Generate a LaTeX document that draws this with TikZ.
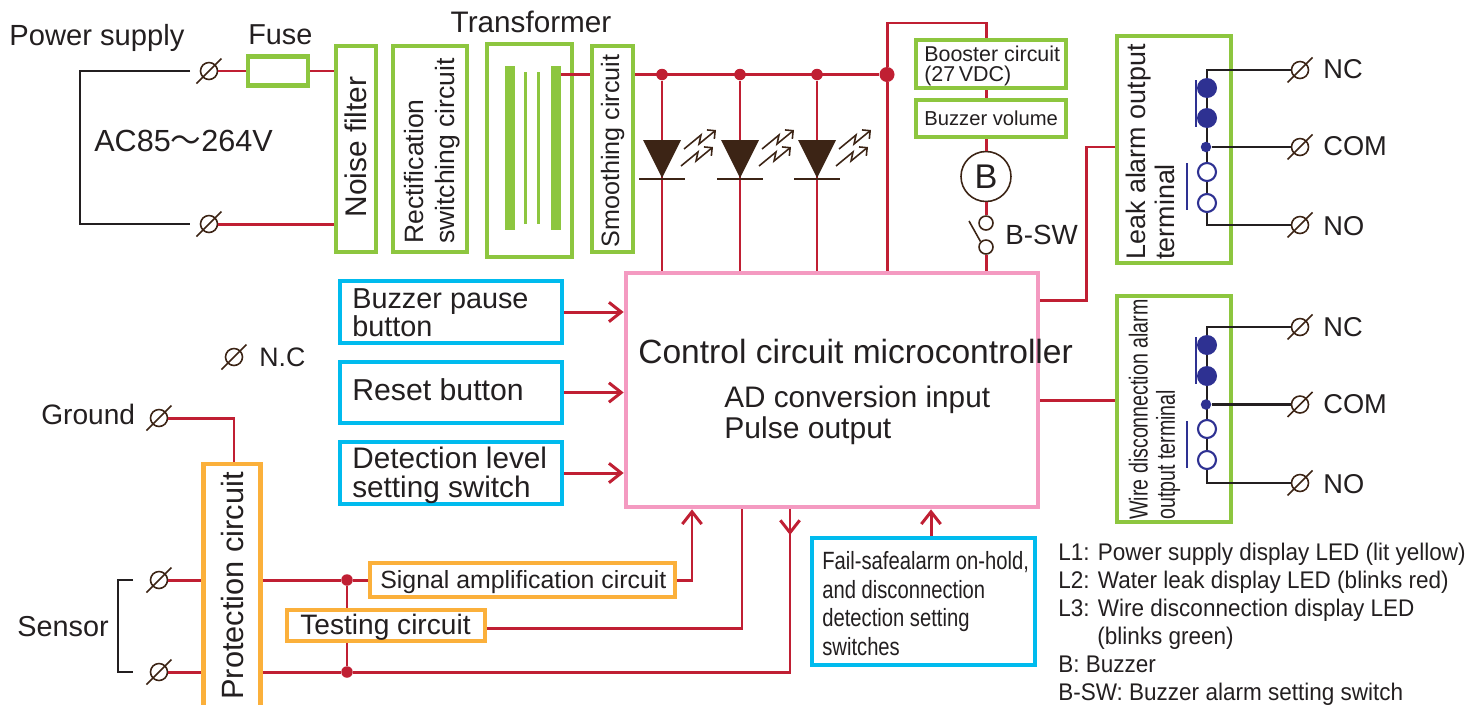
\documentclass[tikz,border=0pt]{standalone}
\usepackage{fontspec}
\setmainfont{Liberation Sans}
\newfontfamily\cjk{Noto Sans CJK JP}
\usepackage{tikz}
\usetikzlibrary{arrows.meta}
\definecolor{wirered}{HTML}{C01F33}
\definecolor{boxgreen}{HTML}{8DC63F}
\definecolor{boxblue}{HTML}{00BBEE}
\definecolor{boxorange}{HTML}{FBB03B}
\definecolor{boxpink}{HTML}{F49AC1}
\definecolor{relayblue}{HTML}{2E3192}
\definecolor{ledbrown}{HTML}{3C2415}
\definecolor{inkblack}{HTML}{231F20}
\newcommand\fsz[2]{\fontsize{#1}{#2}\selectfont}
\newcommand\sx[2]{\scalebox{#1}[1]{#2}}
\newcommand\term[3]{\node[termc] (#1) at (#2,#3) {};
  \draw[termslash] ([shift={(-12.5,12.5)}]#1.center)--([shift={(12.5,-12.5)}]#1.center);}
\tikzset{
  lbl/.style={inner sep=0pt,text=inkblack,font=\fsz{16.4pt}{19pt}},
  greenbox/.style={draw=boxgreen,line width=2.7pt,fill=white,inner sep=0pt},
  bluebox/.style={draw=boxblue,line width=2.7pt,fill=white,inner sep=0pt},
  orangebox/.style={draw=boxorange,line width=2.7pt,fill=white,inner sep=0pt},
  pinkbox/.style={draw=boxpink,line width=2.7pt,fill=white,inner sep=0pt},
  wire/.style={draw=wirered,line width=1.7pt},
  wirearrow/.style={wire,-{Straight Barb[length=7pt,width=11pt]}},
  blackwire/.style={draw=inkblack,line width=1.3pt},
  bracket/.style={draw=inkblack,line width=.9pt},
  termc/.style={circle,draw=ledbrown,line width=.9pt,minimum size=.34cm,inner sep=0pt},
  termslash/.style={draw=ledbrown,line width=.9pt},
  joint/.style={circle,fill=wirered,minimum size=.23cm,inner sep=0pt},
  bigjoint/.style={circle,fill=wirered,minimum size=.3cm,inner sep=0pt},
  swc/.style={circle,draw=ledbrown,line width=.9pt,fill=white,minimum size=.28cm,inner sep=0pt},
  closedc/.style={circle,fill=relayblue,minimum size=.4cm,inner sep=0pt},
  openc/.style={circle,draw=relayblue,line width=1.2pt,fill=white,minimum size=.36cm,inner sep=0pt},
  smallc/.style={circle,fill=relayblue,minimum size=.21cm,inner sep=0pt},
  contact/.style={draw=relayblue,line width=1.2pt},
  bar/.style={fill=boxgreen,inner sep=0pt,minimum height=3.28cm},
  thinbar/.style={fill=boxgreen,inner sep=0pt,minimum height=3.06cm,minimum width=.06cm},
  led/.pic={
    \fill[ledbrown] (-19,140)--(19,140)--(0,178)--cycle;
    \draw[ledbrown,line width=.9pt] (-23,179)--(23,179);
    \draw[ledbrown,line width=.9pt,->,>=Straight Barb] (22,149)--(39,135)--(37,144)--(54,130);
    \draw[ledbrown,line width=.9pt,->,>=Straight Barb] (19,166)--(36,152)--(34,161)--(51,147);
  }
}
\begin{document}
\begin{tikzpicture}[x=0.02cm,y=-0.02cm]
\useasboundingbox (0,0) rectangle (1482,704);
\clip (0,0) rectangle (1482,704);
%%%%% Boxes %%%%%
\node[greenbox,minimum width=1.2cm,minimum height=.58cm] (fuse) at (278,71) {};
\node[greenbox,minimum width=.8cm,minimum height=4.12cm] (noise) at (356,149) {};
\node[greenbox,minimum width=1.48cm,minimum height=4.12cm] (rectif) at (430,149) {};
\node[greenbox,minimum width=1.7cm,minimum height=4.26cm] (transf) at (529.5,150.5) {};
\node[greenbox,minimum width=.82cm,minimum height=4.12cm] (smooth) at (612.5,149) {};
\node[greenbox,minimum width=3cm,minimum height=.96cm] (booster) at (991,64) {};
\node[greenbox,minimum width=3cm,minimum height=.74cm] (volume) at (991,118.5) {};
\node[greenbox,minimum width=2.28cm,minimum height=4.54cm] (leak) at (1174,149.5) {};
\node[greenbox,minimum width=2.28cm,minimum height=4.52cm] (wiredis) at (1174,409) {};
\node[pinkbox,minimum width=8.24cm,minimum height=4.68cm] (ctrl) at (832,390) {};
\node[bluebox,minimum width=4.44cm,minimum height=1.24cm] (pause) at (451,312) {};
\node[bluebox,minimum width=4.44cm,minimum height=1.22cm] (reset) at (451,392.5) {};
\node[bluebox,minimum width=4.44cm,minimum height=1.24cm] (detect) at (451,473) {};
\node[bluebox,minimum width=4.46cm,minimum height=2.54cm] (failsafe) at (923.5,601.5) {};
\node[orangebox,minimum width=1.14cm,minimum height=5.92cm] (protect) at (232,612) {};
\node[orangebox,minimum width=6.1cm,minimum height=.68cm] (signal) at (522.5,580) {};
\node[orangebox,minimum width=3.96cm,minimum height=.62cm] (testing) at (386,625.5) {};
%%%%% Transformer %%%%%
\node[bar,minimum width=.2cm] (coila) at (510,148) {};
\node[thinbar] (coilb) at (525.5,148) {};
\node[thinbar] (coilc) at (538.5,148) {};
\node[bar,minimum width=.2cm] (coild) at (556,148) {};
%%%%% Terminals %%%%%
\term{acup}{209}{71}
\term{acdown}{209}{224}
\term{nc}{234}{357}
\term{gnd}{159}{418}
\term{senup}{159}{580}
\term{sendown}{159}{672}
\term{leaknc}{1300}{70}
\term{leakcom}{1300}{147}
\term{leakno}{1300}{225}
\term{wirenc}{1300}{327}
\term{wirecom}{1300}{404.5}
\term{wireno}{1300}{483}
%%%%% Power line %%%%%
\coordinate (acupend) at (190,71);
\coordinate (acdownend) at (190,224);
\coordinate (acleft) at (80,71);
\draw[bracket] (acupend)--(acleft)--(acleft|-acdownend)--(acdownend);
\draw[wire] (acup.east)--(fuse.west);
\draw[wire] (fuse.east)--(noise.west|-fuse.east);
\draw[wire] (acdown.east)--(noise.west|-acdown.east);
\node[joint] (ledjoina) at (662,74.5) {};
\node[joint] (ledjoinb) at (740,74.5) {};
\node[joint] (ledjoinc) at (817,74.5) {};
\node[bigjoint] (boostjoin) at (887,74.5) {};
\draw[wire] (coild.east|-ledjoina)--(smooth.west|-ledjoina);
\draw[wire] (smooth.east|-ledjoina)--(boostjoin);
\draw[wire] (ledjoina)--(ctrl.north-|ledjoina);
\draw[wire] (ledjoinb)--(ctrl.north-|ledjoinb);
\draw[wire] (ledjoinc)--(ctrl.north-|ledjoinc);
\draw[wire] (boostjoin)--(ctrl.north-|boostjoin);
%%%%% LED %%%%%
\pic at (662,0) {led};
\pic at (740,0) {led};
\pic at (817,0) {led};
%%%%% Buzzer %%%%%
\coordinate (boosttop) at (986,23);
\node[circle,draw=ledbrown,line width=.9pt,fill=white,minimum size=1cm,inner sep=0pt,text=inkblack,font=\fsz{19.5pt}{20pt}] (buzzer) at (986,176.5) {B};
\node[swc] (swa) at (986,223) {};
\node[swc] (swb) at (986,247) {};
\coordinate (swtip) at (969,221);
\draw[wire] (boostjoin)|-(boosttop)--(booster.north-|boosttop);
\draw[wire] (booster.south-|boosttop)--(volume.north-|boosttop);
\draw[wire] (volume.south-|boosttop)--(buzzer.north);
\draw[wire] (buzzer.south)--(swa.north);
\draw[wire] (swb.south)--(ctrl.north-|swb);
\draw[draw=ledbrown,line width=.9pt] (swtip)--(swb.north west);
%%%%% Inputs %%%%%
\draw[wirearrow] (pause.east)--(ctrl.west|-pause.east);
\draw[wirearrow] (reset.east)--(ctrl.west|-reset.east);
\draw[wirearrow] (detect.east)--(ctrl.west|-detect.east);
\draw[wirearrow] (failsafe.north-|931,0)--(ctrl.south-|931,0);
%%%%% Sensor %%%%%
\coordinate (gndcorner) at (234,418);
\coordinate (senupend) at (133,580);
\coordinate (sendownend) at (133,672);
\coordinate (senleft) at (118,580);
\coordinate (ampcorner) at (692,580);
\coordinate (testcorner) at (742,628);
\coordinate (retcorner) at (790,672);
\coordinate (rettip) at (790,535);
\node[joint] (senjoina) at (347,580) {};
\node[joint] (senjoinb) at (347,672) {};
\draw[bracket] (senupend)--(senleft)--(senleft|-sendownend)--(sendownend);
\draw[wire] (gnd.east)--(gndcorner)--(protect.north-|gndcorner);
\draw[wire] (senup.east)--(protect.west|-senup.east);
\draw[wire] (sendown.east)--(protect.west|-sendown.east);
\draw[wire] (protect.east|-senjoina)--(senjoina)--(signal.west);
\draw[wire] (protect.east|-senjoinb)--(senjoinb)--(retcorner)--(ctrl.south-|retcorner);
\draw[wire] (senjoina)--(testing.north-|senjoina);
\draw[wire] (testing.south-|senjoina)--(senjoinb);
\draw[wirearrow] (signal.east)--(ampcorner)--(ctrl.south-|ampcorner);
\draw[wire] (testing.east|-testcorner)--(testcorner)--(ctrl.south-|testcorner);
\draw[wirearrow] (ctrl.south-|retcorner)--(rettip);
%%%%% Alarm outputs %%%%%
\coordinate (leakout) at (1086,300);
\draw[wire] (ctrl.east|-leakout)--(leakout)--(leakout|-leakcom)--(leak.west|-leakcom);
\draw[wire] (ctrl.east|-0,400)--(wiredis.west|-0,400);
%%%%% Leak relay %%%%%
\coordinate (leaktop) at (1207,70);
\coordinate (leakbot) at (1207,225);
\draw[blackwire] (leaknc.west)--(leaktop)--(leakbot)--(leakno.west);
\node[closedc] (leakca) at (1207,88) {};
\node[closedc] (leakcb) at (1207,118) {};
\node[smallc] (leakcc) at (1206,147) {};
\node[openc] (leakcd) at (1207,172) {};
\node[openc] (leakce) at (1207,203) {};
\draw[blackwire] (leakcc)--(leakcom.west);
\draw[contact] (1196,80)--(1196,127);
\draw[contact] (1187,163)--(1187,210);
%%%%% Wire relay %%%%%
\coordinate (wiretop) at (1207,327);
\coordinate (wirebot) at (1207,483);
\draw[blackwire] (wirenc.west)--(wiretop)--(wirebot)--(wireno.west);
\node[closedc] (wireca) at (1207,345) {};
\node[closedc] (wirecb) at (1207,376) {};
\node[smallc] (wirecc) at (1206,404.5) {};
\node[openc] (wirecd) at (1207,429) {};
\node[openc] (wirece) at (1207,460) {};
\draw[blackwire] (wirecc)--(wirecom.west);
\draw[contact] (1196,337)--(1196,384);
\draw[contact] (1187,421)--(1187,468);
%%%%% Labels %%%%%
\node[lbl,anchor=west,font=\fsz{16.6pt}{19pt}] (powerlbl) at (9,38) {Power supply};
\node[lbl,anchor=west] (fuselbl) at (248,35) {Fuse};
\node[lbl,font=\fsz{16.9pt}{19pt}] (transflbl) at (531,22) {Transformer};
\node[lbl,anchor=west,font=\fsz{17.4pt}{20pt}] (aclbl) at (94,141) {AC85{\cjk ～}264V};
\node[lbl,rotate=90,font=\fsz{17pt}{20pt}] (noiselbl) at (356,147) {Noise filter};
\node[lbl,rotate=90,align=left,font=\fsz{15.1pt}{18pt}] (rectiflbl) at (432,151) {Rectification\\switching circuit};
\node[lbl,rotate=90,font=\fsz{14.3pt}{17pt}] (smoothlbl) at (612.5,151) {Smoothing circuit};
\node[lbl,anchor=west,font=\fsz{12.2pt}{11.4pt},align=left] (boosterlbl) at (924,65.5) {Booster circuit\\(27\,VDC)};
\node[lbl,anchor=west,font=\fsz{11.5pt}{14pt}] (volumelbl) at (924,118.5) {Buzzer volume};
\node[lbl,anchor=west,font=\fsz{15.8pt}{19pt}] (swlbl) at (1005,235) {B-SW};
\node[lbl,anchor=west,font=\fsz{15.2pt}{18pt}] (nclbl) at (259,357) {N.C};
\node[lbl,anchor=west,font=\fsz{16pt}{19pt}] (gndlbl) at (41,414) {Ground};
\node[lbl,anchor=west] (senlbl) at (17,627) {Sensor};
\node[lbl,rotate=90,anchor=west,font=\fsz{17.5pt}{20pt}] (protectlbl) at (233,700) {Protection circuit};
\node[lbl,anchor=west,align=left,font=\fsz{16.4pt}{16pt}] (pauselbl) at (352,313) {Buzzer pause\\button};
\node[lbl,anchor=west,font=\fsz{17.2pt}{19pt}] (resetlbl) at (352,389.5) {Reset button};
\node[lbl,anchor=west,align=left,font=\fsz{16.9pt}{16.5pt}] (detectlbl) at (352,475) {Detection level\\setting switch};
\node[lbl,anchor=west,align=left,font=\fsz{14.2pt}{16.3pt}] (failsafelbl) at (822,603.5) {\sx{.81}{Fail-safealarm on-hold,}\\\sx{.81}{and disconnection}\\\sx{.81}{detection setting}\\\sx{.81}{switches}};
\node[lbl,anchor=west,font=\fsz{14.15pt}{16pt}] (signallbl) at (380,582.5) {Signal amplification circuit};
\node[lbl,anchor=west,font=\fsz{16pt}{18pt}] (testinglbl) at (300,627.5) {Testing circuit};
\node[lbl,anchor=west,font=\fsz{19.1pt}{22pt}] (ctrllbl) at (638,351) {Control circuit microcontroller};
\node[lbl,anchor=west,font=\fsz{16.9pt}{20pt}] (adlbl) at (724,400) {AD conversion input};
\node[lbl,anchor=west,font=\fsz{17.1pt}{20pt}] (pulselbl) at (724,431) {Pulse output};
\node[lbl,rotate=90,anchor=north west,align=left,font=\fsz{15.3pt}{16.5pt}] (leaklbl) at (1126,260) {Leak alarm output\\terminal};
\node[lbl,rotate=90,anchor=north west,align=left,font=\fsz{14.8pt}{15.4pt}] (wirelbl) at (1128.5,520) {\sx{.755}{Wire disconnection alarm}\\\sx{.755}{output terminal}};
\node[lbl,anchor=west,font=\fsz{15.5pt}{18pt}] (leaknclbl) at (1323,69) {NC};
\node[lbl,anchor=west,font=\fsz{15.5pt}{18pt}] (leakcomlbl) at (1323,146) {COM};
\node[lbl,anchor=west,font=\fsz{15.5pt}{18pt}] (leaknolbl) at (1323,226) {NO};
\node[lbl,anchor=west,font=\fsz{15.5pt}{18pt}] (wirenclbl) at (1323,327) {NC};
\node[lbl,anchor=west,font=\fsz{15.5pt}{18pt}] (wirecomlbl) at (1323,404) {COM};
\node[lbl,anchor=west,font=\fsz{15.5pt}{18pt}] (wirenolbl) at (1323,484) {NO};
\node[lbl,anchor=north west,align=left,font=\fsz{13.7pt}{15.9pt}] (notes) at (1058,543) {\sx{.935}{L1: Power supply display LED (lit yellow)}\\\sx{.935}{L2: Water leak display LED (blinks red)}\\\sx{.935}{L3: Wire disconnection display LED}\\\hspace{.78cm}\sx{.935}{(blinks green)}\\\sx{.935}{B: Buzzer}\\\sx{.935}{B-SW: Buzzer alarm setting switch}};
\end{tikzpicture}
\end{document}
